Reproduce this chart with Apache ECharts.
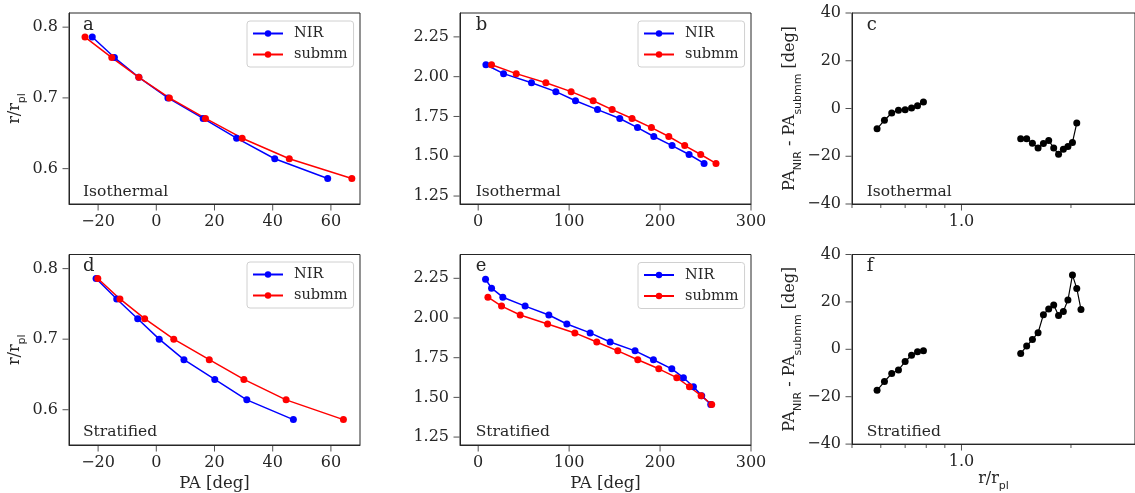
<!DOCTYPE html>
<html><head><meta charset="utf-8">
<script src="https://cdn.jsdelivr.net/npm/echarts@6/dist/echarts.min.js"></script>
<style>html,body{margin:0;padding:0;background:#fff}#c{width:1135px;height:493px}</style>
</head><body><div id="c"></div>
<script>
// ---- data (r/r_pl ascending) ----
const rInner = [0.586, 0.614, 0.643, 0.671, 0.700, 0.729, 0.757, 0.786];
const isoInnerNir = [58.9, 40.7, 27.6, 16.1, 4.0, -6.0, -14.4, -22.0];
const isoInnerSub = [67.2, 45.7, 29.5, 16.9, 4.5, -6.0, -15.3, -24.5];
const isoInnerDiff = [-8.5, -4.9, -1.9, -0.7, -0.5, 0.2, 1.2, 2.7];

const rOuterIso = [1.455, 1.511, 1.567, 1.624, 1.680, 1.737, 1.793, 1.849, 1.906, 1.962, 2.019, 2.075];
const isoOuterNir = [248.4, 231.9, 213.2, 193.1, 175.2, 155.7, 131.2, 107.0, 85.4, 58.6, 27.9, 8.5];
const isoOuterSub = [261.5, 244.7, 227.1, 209.6, 190.5, 169.2, 147.3, 126.4, 102.2, 74.4, 41.8, 14.7];
const isoOuterDiff = [-12.7, -12.7, -14.6, -16.5, -14.7, -13.4, -16.5, -19.2, -17.1, -15.9, -14.2, -6.1];

const strInnerNir = [47.1, 31.1, 20.1, 9.5, 1.0, -6.4, -13.6, -20.7];
const strInnerSub = [64.3, 44.6, 30.1, 18.2, 6.0, -4.0, -12.5, -20.1];
const strInnerDiff = [-17.3, -13.6, -10.2, -8.7, -5.2, -2.5, -1.0, -0.6];

const rOuterStrNir = [1.455, 1.511, 1.567, 1.624, 1.680, 1.737, 1.793, 1.849, 1.906, 1.962, 2.019, 2.075, 2.131, 2.188, 2.244];
const strOuterNir = [255.7, 245.8, 236.7, 225.7, 212.9, 192.7, 172.5, 145.1, 123.1, 97.5, 77.7, 51.6, 27.1, 14.7, 8.1];
const rOuterStrSub = [1.455, 1.511, 1.567, 1.624, 1.680, 1.737, 1.793, 1.849, 1.906, 1.962, 2.019, 2.075, 2.131];
const strOuterSub = [256.8, 245.1, 232.3, 218.4, 198.6, 175.5, 153.5, 130.4, 106.3, 76.3, 46.2, 25.7, 10.7];
const strOuterDiff = [-1.8, 1.4, 4.1, 7.0, 14.6, 17.0, 18.7, 14.3, 16.0, 20.8, 31.3, 25.7, 16.8];

// ---- axis limits and tick labels ----
const paLimInner = [-30, 70];
const paLimOuter = [-20, 300];
const rLimInner = [0.55, 0.82];
const rLimOuter = [1.2, 2.4];
const rLimLog = [0.5, 3];
const diffLim = [-40, 40];
const paTicksInner = [-20, 0, 20, 40, 60];
const paTicksOuter = [0, 100, 200, 300];
const rTicksInner = [0.6, 0.7, 0.8];
const rTicksOuter = [1.25, 1.5, 1.75, 2.0, 2.25];
const diffTicks = [-40, -20, 0, 20, 40];
const rLogMajor = [1.0];
const rLogMinor = [0.5, 0.6, 0.7, 0.8, 0.9, 2.0];
const panelLetters = ['a', 'b', 'c', 'd', 'e', 'f'];
const modelNames = ['Isothermal', 'Stratified'];

// ---- styling / layout ----
const SERIF = '"DejaVu Serif", serif';
const SANS = '"DejaVu Sans", sans-serif';
const INK = '#262626';
const minus = v => String(v).replace('-', '\u2212');

const gridBoxes = [
  {left: 69, top: 13, width: 291, height: 191},
  {left: 460, top: 13, width: 291, height: 191},
  {left: 852, top: 13, width: 290.6, height: 191},
  {left: 69, top: 254.5, width: 291, height: 191},
  {left: 460, top: 254.5, width: 291, height: 191},
  {left: 852, top: 254.5, width: 290.6, height: 191}
];
const grids = gridBoxes.map(g => Object.assign({show: true, borderColor: INK, borderWidth: 1, backgroundColor: 'transparent'}, g));

const axLine = {show: true, onZero: false, lineStyle: {color: INK, width: 1}};
const label = (vals, fmt, margin) => ({show: true, customValues: vals, formatter: fmt, margin: margin, fontFamily: SERIF, fontSize: 16, color: INK});
const richName = {
  m: {fontFamily: SERIF, fontSize: 16, color: INK, lineHeight: 20, verticalAlign: 'top'},
  s: {fontFamily: SANS, fontSize: 11, color: INK, lineHeight: 11, padding: [10, 0, 0, 0], verticalAlign: 'top'}
};

function xLin(gi, lim, ticks, withName) {
  const ax = {type: 'value', gridIndex: gi, min: lim[0], max: lim[1], position: 'bottom',
    axisLine: axLine, splitLine: {show: false}, axisTick: {show: false},
    axisLabel: label(ticks, v => minus(v), 10)};
  if (withName) {
    ax.name = 'PA [deg]'; ax.nameLocation = 'middle'; ax.nameGap = 30;
    ax.nameTextStyle = {fontFamily: SERIF, fontSize: 16.5, color: INK};
  }
  return ax;
}
function xLog(gi, withName) {
  const ax = {type: 'log', logBase: 10, gridIndex: gi, min: rLimLog[0], max: rLimLog[1], position: 'bottom',
    axisLine: axLine, splitLine: {show: false}, minorTick: {show: false}, axisTick: {show: false},
    axisLabel: label(rLogMajor, v => Number(v).toFixed(1), 10)};
  if (withName) {
    ax.name = '{m|r/r}{s|pl}'; ax.nameLocation = 'middle'; ax.nameGap = 22;
    ax.nameTextStyle = {rich: richName};
  }
  return ax;
}
function yLin(gi, lim, ticks, fmt, name, gap) {
  const ax = {type: 'value', gridIndex: gi, min: lim[0], max: lim[1], position: 'left',
    axisLine: axLine, splitLine: {show: false}, axisTick: {show: false},
    axisLabel: label(ticks, fmt, 11)};
  if (name) {
    ax.name = name; ax.nameLocation = 'middle'; ax.nameGap = gap;
    ax.nameTextStyle = {rich: richName};
  }
  return ax;
}

const rNameY = '{m|r/r}{s|pl}';
const diffName = '{m|PA}{s|NIR}{m| - PA}{s|submm}{m| [deg]}';
const xAxes = [
  xLin(0, paLimInner, paTicksInner, false),
  xLin(1, paLimOuter, paTicksOuter, false),
  xLog(2, false),
  xLin(3, paLimInner, paTicksInner, true),
  xLin(4, paLimOuter, paTicksOuter, true),
  xLog(5, true)
];
const yAxes = [
  yLin(0, rLimInner, rTicksInner, v => Number(v).toFixed(1), rNameY, 42),
  yLin(1, rLimOuter, rTicksOuter, v => Number(v).toFixed(2)),
  yLin(2, diffLim, diffTicks, v => minus(v), diffName, 45),
  yLin(3, rLimInner, rTicksInner, v => Number(v).toFixed(1), rNameY, 42),
  yLin(4, rLimOuter, rTicksOuter, v => Number(v).toFixed(2)),
  yLin(5, diffLim, diffTicks, v => minus(v), diffName, 45)
];

const pairs = (xs, ys) => xs.map((x, i) => [x, ys[i]]);
function line(name, color, data, idx, width) {
  return {type: 'line', name, xAxisIndex: idx, yAxisIndex: idx, data,
    symbol: 'circle', symbolSize: 7, showSymbol: true,
    lineStyle: {color, width: width || 1.5}, itemStyle: {color},
    emphasis: {disabled: true}, z: 3};
}
// outward tick marks, placed through each panel's own scales
function xTicks(idx, vals, yMin, len) {
  return {type: 'scatter', name: 'xtick' + idx, xAxisIndex: idx, yAxisIndex: idx,
    data: vals.map(v => [v, yMin]), symbol: 'rect', symbolSize: [1, len], symbolOffset: [0, len / 2 + 0.5],
    itemStyle: {color: INK}, clip: false, silent: true, emphasis: {disabled: true}, z: 1};
}
function yTicks(idx, vals, xMin, len) {
  return {type: 'scatter', name: 'ytick' + idx, xAxisIndex: idx, yAxisIndex: idx,
    data: vals.map(v => [xMin, v]), symbol: 'rect', symbolSize: [len, 1], symbolOffset: [-len / 2 - 0.5, 0],
    itemStyle: {color: INK}, clip: false, silent: true, emphasis: {disabled: true}, z: 1};
}

const BLUE = '#0000ff', RED = '#ff0000', BLACK = '#000000';
const series = [
  line('NIR', BLUE, pairs(isoInnerNir, rInner), 0),
  line('submm', RED, pairs(isoInnerSub, rInner), 0),
  line('NIR', BLUE, pairs(isoOuterNir, rOuterIso), 1),
  line('submm', RED, pairs(isoOuterSub, rOuterIso), 1),
  line('diffInner', BLACK, pairs(rInner, isoInnerDiff), 2, 1.2),
  line('diffOuter', BLACK, pairs(rOuterIso, isoOuterDiff), 2, 1.2),
  line('NIR', BLUE, pairs(strInnerNir, rInner), 3),
  line('submm', RED, pairs(strInnerSub, rInner), 3),
  line('NIR', BLUE, pairs(strOuterNir, rOuterStrNir), 4),
  line('submm', RED, pairs(strOuterSub, rOuterStrSub), 4),
  line('diffInner', BLACK, pairs(rInner, strInnerDiff), 5, 1.2),
  line('diffOuter', BLACK, pairs(rOuterStrSub, strOuterDiff), 5, 1.2),
  // ticks
  xTicks(0, paTicksInner, rLimInner[0], 6), yTicks(0, rTicksInner, paLimInner[0], 6),
  xTicks(1, paTicksOuter, rLimOuter[0], 6), yTicks(1, rTicksOuter, paLimOuter[0], 6),
  xTicks(2, rLogMajor, diffLim[0], 6), xTicks(2, rLogMinor, diffLim[0], 3.5), yTicks(2, diffTicks, rLimLog[0], 6),
  xTicks(3, paTicksInner, rLimInner[0], 6), yTicks(3, rTicksInner, paLimInner[0], 6),
  xTicks(4, paTicksOuter, rLimOuter[0], 6), yTicks(4, rTicksOuter, paLimOuter[0], 6),
  xTicks(5, rLogMajor, diffLim[0], 6), xTicks(5, rLogMinor, diffLim[0], 3.5), yTicks(5, diffTicks, rLimLog[0], 6)
];

function legendAt(left, top) {
  return {left, top, orient: 'vertical', data: ['NIR', 'submm'], selectedMode: false,
    itemWidth: 30, itemHeight: 8, itemGap: 6, padding: [5, 6, 5, 5],
    borderColor: '#d0d0d0', borderWidth: 1, borderRadius: 3, backgroundColor: 'rgba(255,255,255,0.8)',
    textStyle: {fontFamily: SERIF, fontSize: 14.5, color: INK, lineHeight: 15, padding: [0, 0, 0, 6]}};
}
const legends = [legendAt(247, 21), legendAt(638, 21), legendAt(247, 262), legendAt(638, 262.5)];

const textLefts = [83, 475.7, 866.7];
const titles = [];
panelLetters.forEach((t, i) => {
  const row = Math.floor(i / 3), col = i % 3;
  titles.push({text: t, left: textLefts[col], top: row === 0 ? 16.5 : 257, padding: 0,
    textStyle: {fontFamily: SERIF, fontSize: 18, fontWeight: 'normal', color: INK}});
  titles.push({text: modelNames[row], left: textLefts[col], top: row === 0 ? 183.5 : 424, padding: 0,
    textStyle: {fontFamily: SERIF, fontSize: 15.5, fontWeight: 'normal', color: INK}});
});

const chart = echarts.init(document.getElementById('c'), null, {renderer: 'canvas'});
chart.setOption({
  animation: false,
  backgroundColor: '#ffffff',
  title: titles,
  legend: legends,
  grid: grids,
  xAxis: xAxes,
  yAxis: yAxes,
  series: series
});
</script></body></html>
